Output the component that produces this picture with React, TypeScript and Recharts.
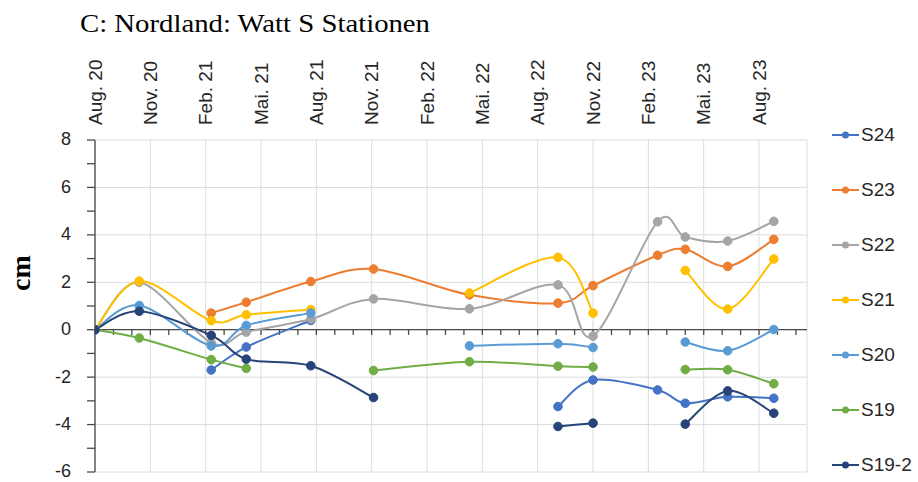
import {
  LineChart,
  Line,
  XAxis,
  YAxis,
  CartesianGrid,
  ReferenceLine,
  Legend,
} from "recharts";

// survey dates, as months after Aug. 2020
const surveyMonths = [0, 2.4, 6.3, 8.2, 11.7, 15.1, 20.3, 25.1, 27.0, 30.5, 32.0, 34.3, 36.8];

const quarterTicks = [0, 3, 6, 9, 12, 15, 18, 21, 24, 27, 30, 33, 36];
const quarterLabels = [
  "Aug. 20", "Nov. 20", "Feb. 21", "Mai. 21", "Aug. 21", "Nov. 21", "Feb. 22",
  "Mai. 22", "Aug. 22", "Nov. 22", "Feb. 23", "Mai. 23", "Aug. 23",
];
const monthTicks = [
  0, 1, 2, 3, 4, 5, 6, 7, 8, 9, 10, 11, 12, 13, 14, 15, 16, 17, 18, 19,
  20, 21, 22, 23, 24, 25, 26, 27, 28, 29, 30, 31, 32, 33, 34, 35, 36, 37, 38,
];
const yTicks = [-6, -5, -4, -3, -2, -1, 0, 1, 2, 3, 4, 5, 6, 7, 8];
const yGrid = [-6, -4, -2, 0, 2, 4, 6, 8];

const s24 = [0, null, -1.7, -0.73, 0.39, null, null, -3.24, -2.12, -2.54, -3.1, -2.83, -2.89];
const s23 = [0, null, 0.7, 1.16, 2.03, 2.56, 1.47, 1.12, 1.86, 3.14, 3.39, 2.67, 3.81];
const s22 = [0, 2.0, -0.55, -0.1, 0.45, 1.3, 0.88, 1.89, -0.27, 4.55, 3.91, 3.74, 4.57];
const s21 = [0, 2.05, 0.38, 0.63, 0.85, null, 1.55, 3.05, 0.7, null, 2.5, 0.87, 2.98];
const s20 = [0, 1.02, -0.68, 0.18, 0.7, null, -0.68, -0.59, -0.75, null, -0.52, -0.89, 0.01];
const s19 = [0, -0.35, -1.26, -1.63, null, -1.72, -1.35, -1.54, -1.57, null, -1.68, -1.69, -2.28];
const s19b = [0, 0.78, -0.24, -1.24, -1.52, -2.86, null, -4.08, -3.94, null, -3.98, -2.58, -3.52];

const SERIES = [
  { key: "S24", values: s24, color: "#4472C4" },
  { key: "S23", values: s23, color: "#ED7D31" },
  { key: "S22", values: s22, color: "#A5A5A5" },
  { key: "S21", values: s21, color: "#FFC000" },
  { key: "S20", values: s20, color: "#5B9BD5" },
  { key: "S19", values: s19, color: "#70AD47" },
  { key: "S19-2", values: s19b, color: "#264478" },
];

const rows = surveyMonths.map((m, i) => {
  const row: Record<string, number | null> = { m };
  SERIES.forEach((s) => (row[s.key] = s.values[i]));
  return row;
});

const FONT = '"Liberation Sans", Arial, sans-serif';
const SERIF = '"Liberation Serif", "Times New Roman", serif';
const TEXT = "#262626";
const AXIS = "#4a4a4a";

// excel-like smoothed line (bezier, neighbour tangents / 6)
const excelSmooth = (context: any) => {
  let pts: number[][] = [];
  return {
    areaStart() {},
    areaEnd() {},
    lineStart() {
      pts = [];
    },
    point(x: number, y: number) {
      pts.push([+x, +y]);
    },
    lineEnd() {
      if (!pts.length) return;
      context.moveTo(pts[0][0], pts[0][1]);
      for (let i = 0; i < pts.length - 1; i++) {
        const p0 = pts[i - 1] || pts[i];
        const p1 = pts[i];
        const p2 = pts[i + 1];
        const p3 = pts[i + 2] || p2;
        context.bezierCurveTo(
          p1[0] + (p2[0] - p0[0]) / 6,
          p1[1] + (p2[1] - p0[1]) / 6,
          p2[0] - (p3[0] - p1[0]) / 6,
          p2[1] - (p3[1] - p1[1]) / 6,
          p2[0],
          p2[1]
        );
      }
    },
  };
};

const QuarterTick = (props: any) => {
  const { x, y, payload } = props;
  const label = quarterLabels[quarterTicks.indexOf(payload.value)];
  return (
    <text
      x={x}
      y={y}
      transform={`rotate(-90 ${x} ${y})`}
      textAnchor="start"
      dy="0.35em"
      fontSize={19}
      fontFamily={FONT}
      fill={TEXT}
    >
      {label}
    </text>
  );
};

const ValueTick = (props: any) => {
  const { x, y, payload } = props;
  if (payload.value % 2 !== 0) return <g />;
  return (
    <text x={x} y={y} textAnchor="end" dy="0.3em" fontSize={18} fontFamily={FONT} fill={TEXT}>
      {payload.value}
    </text>
  );
};

const CmLabel = (props: any) => {
  const { viewBox } = props;
  const x = viewBox.x + 20;
  const y = viewBox.y + 133;
  return (
    <text
      x={x}
      y={y}
      transform={`rotate(-90 ${x} ${y})`}
      textAnchor="middle"
      dy="0.35em"
      fontSize={28}
      fontWeight="bold"
      fontFamily={SERIF}
      fill="#000"
    >
      cm
    </text>
  );
};

const renderLegend = () => (
  <div style={{ fontFamily: FONT, fontSize: 19, color: TEXT }}>
    {SERIES.map((s) => (
      <div key={s.key} style={{ display: "flex", alignItems: "center", height: 55 }}>
        <svg width={27} height={10} style={{ display: "block" }}>
          <line x1={0} y1={5} x2={27} y2={5} stroke={s.color} strokeWidth={2} />
          <circle cx={13.5} cy={5} r={3.5} fill={s.color} />
        </svg>
        <span style={{ marginLeft: 2 }}>{s.key}</span>
      </div>
    ))}
  </div>
);

export default function App() {
  return (
    <div style={{ position: "absolute", left: 0, top: 0, width: 918, height: 482, background: "#fff" }}>
      <svg width={918} height={50} style={{ position: "absolute", left: 0, top: 0 }}>
        <text x={80} y={32} fontSize={26} fontFamily={SERIF} fill="#000" textLength={350} lengthAdjust="spacingAndGlyphs">
          C: Nordland: Watt S Stationen
        </text>
      </svg>
      <LineChart
        width={918}
        height={482}
        data={rows}
        margin={{ top: 60, right: 111, bottom: 10, left: 0 }}
      >
        <CartesianGrid stroke="#DCDCDC" horizontalValues={yGrid} />
        <XAxis
          dataKey="m"
          type="number"
          domain={[0, 38.6]}
          ticks={quarterTicks}
          interval={0}
          orientation="top"
          height={80}
          axisLine={false}
          tickLine={false}
          tickSize={0}
          tickMargin={15}
          tick={QuarterTick}
          allowDataOverflow
        />
        <YAxis
          type="number"
          domain={[-6, 8]}
          ticks={yTicks}
          interval={0}
          width={95}
          tickSize={8}
          tickMargin={16}
          tick={ValueTick}
          axisLine={{ stroke: AXIS, strokeWidth: 1.3 }}
          tickLine={{ stroke: AXIS, strokeWidth: 1.3 }}
          label={CmLabel}
        />
        <ReferenceLine y={0} stroke={AXIS} strokeWidth={1.3} />
        {monthTicks.map((m) => (
          <ReferenceLine
            key={m}
            segment={[
              { x: m, y: 0 },
              { x: m, y: -0.22 },
            ]}
            stroke={AXIS}
            strokeWidth={1.3}
          />
        ))}
        {SERIES.map((s) => (
          <Line
            key={s.key}
            dataKey={s.key}
            type={excelSmooth as any}
            stroke={s.color}
            strokeWidth={2}
            dot={{ r: 4.3, fill: s.color, stroke: s.color, strokeWidth: 1 }}
            activeDot={false}
            connectNulls={false}
            isAnimationActive={false}
          />
        ))}
        <Legend
          layout="horizontal"
          align="center"
          verticalAlign="middle"
          content={renderLegend}
          wrapperStyle={{ left: 832, top: 107, width: 90 }}
        />
      </LineChart>
    </div>
  );
}
